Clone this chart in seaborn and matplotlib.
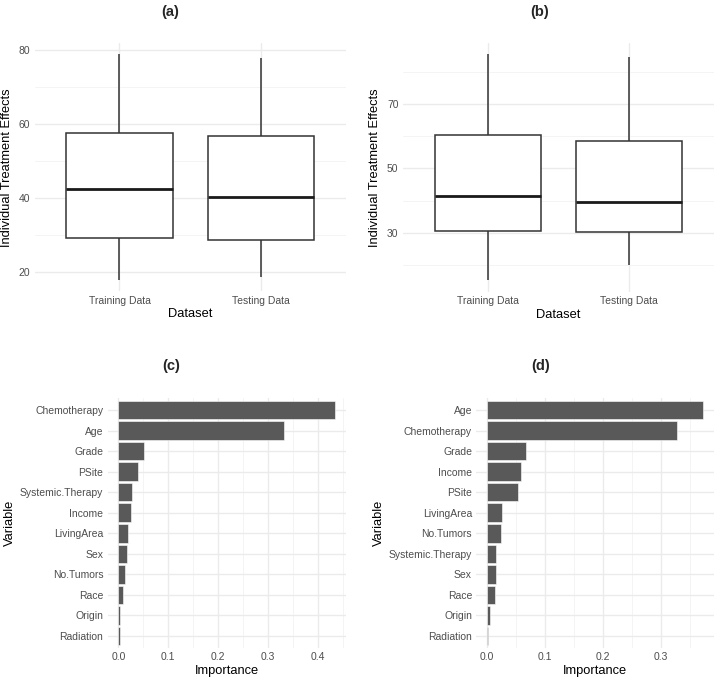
import matplotlib
matplotlib.use("Agg")
import numpy as np
import pandas as pd
import matplotlib.pyplot as plt
import seaborn as sns
from matplotlib.ticker import FixedLocator, MultipleLocator

# Box panels: min, Q1, median, Q3, max
datasets = ["Training Data", "Testing Data"]
ite_a_train = [17.9, 29.2, 42.4, 57.6, 78.8]
ite_a_test = [18.8, 28.6, 40.2, 56.8, 77.7]
ite_b_train = [15.3, 30.7, 41.5, 60.5, 85.4]
ite_b_test = [20.1, 30.3, 39.6, 58.4, 84.5]

# Variable importance panels
vars_c = ["Chemotherapy", "Age", "Grade", "PSite", "Systemic.Therapy", "Income",
          "LivingArea", "Sex", "No.Tumors", "Race", "Origin", "Radiation"]
imp_c = [0.435, 0.332, 0.052, 0.040, 0.027, 0.026, 0.020, 0.017, 0.014, 0.009, 0.004, 0.0035]

vars_d = ["Age", "Chemotherapy", "Grade", "Income", "PSite", "LivingArea",
          "No.Tumors", "Systemic.Therapy", "Sex", "Race", "Origin", "Radiation"]
imp_d = [0.373, 0.327, 0.068, 0.058, 0.053, 0.026, 0.024, 0.015, 0.015, 0.014, 0.005, 0.002]

W, H = 716, 681
TICK_COL = "#4D4D4D"
GRID_MAJ = "#EBEBEB"
GRID_MIN = "#F3F3F3"

sns.set_theme(style="white")
plt.rcParams["font.family"] = ["Liberation Sans", "DejaVu Sans"]


def px_axes(fig, left, top, right, bottom):
    return fig.add_axes([left / W, 1 - bottom / H, (right - left) / W, (bottom - top) / H])


def style_axes(ax):
    for s in ax.spines.values():
        s.set_visible(False)
    ax.set_axisbelow(True)
    ax.grid(which="major", color=GRID_MAJ, linewidth=1.0)
    ax.grid(which="minor", color=GRID_MIN, linewidth=0.6)
    ax.tick_params(which="both", length=0, labelsize=7.5, labelcolor=TICK_COL, pad=3)


def box_panel(ax, train, test, major, minor):
    df = pd.DataFrame({"Dataset": np.repeat(datasets, 5), "ITE": train + test})
    sns.boxplot(data=df, x="Dataset", y="ITE", order=datasets, ax=ax, width=0.75,
                whis=(0, 100), showcaps=False, showfliers=False, color="white",
                linecolor="#333333", linewidth=1.1,
                medianprops={"linewidth": 2.0, "color": "#1a1a1a"})
    vals = train + test
    lo, hi = min(vals), max(vals)
    pad = 0.05 * (hi - lo)
    ax.set_ylim(lo - pad, hi + pad)
    ax.set_xlim(-0.6, 1.6)
    ax.yaxis.set_major_locator(FixedLocator(major))
    ax.yaxis.set_minor_locator(FixedLocator(minor))
    style_axes(ax)
    ax.grid(axis="x", which="minor", visible=False)
    ax.set_xlabel("Dataset", fontsize=9.3, color="black", labelpad=2)
    ax.set_ylabel("Individual Treatment Effects", fontsize=9.3, color="black", labelpad=4)


def bar_panel(ax, names, imp):
    df = pd.DataFrame({"Variable": names, "Importance": imp})
    sns.barplot(data=df, x="Importance", y="Variable", order=names, ax=ax, orient="h",
                color="#595959", saturation=1, width=0.9, edgecolor="white", linewidth=0.4)
    top = max(imp)
    ax.set_xlim(-0.05 * top, 1.05 * top)
    ax.set_ylim(len(names) - 0.4, -0.6)
    ax.xaxis.set_major_locator(MultipleLocator(0.1))
    ax.xaxis.set_minor_locator(MultipleLocator(0.05))
    ax.xaxis.set_major_formatter("{x:.1f}")
    style_axes(ax)
    ax.grid(axis="y", which="minor", visible=False)
    ax.set_xlabel("Importance", fontsize=9.3, color="black", labelpad=2)
    ax.set_ylabel("Variable", fontsize=9.3, color="black", labelpad=3)


fig = plt.figure(figsize=(W / 100, H / 100), dpi=100)

ax_a = px_axes(fig, 34.6, 43.1, 345.9, 291.4)
box_panel(ax_a, ite_a_train, ite_a_test, [20, 40, 60, 80], [30, 50, 70])

ax_b = px_axes(fig, 402.7, 43.0, 714.3, 291.7)
box_panel(ax_b, ite_b_train, ite_b_test, [30, 50, 70], [20, 40, 60, 80])

ax_c = px_axes(fig, 107.5, 397.7, 345.9, 648.3)
bar_panel(ax_c, vars_c, imp_c)

ax_d = px_axes(fig, 476.2, 397.7, 714.2, 648.3)
bar_panel(ax_d, vars_d, imp_d)

for label, x, y in [("(a)", 170, 12), ("(b)", 540, 12), ("(c)", 171, 366), ("(d)", 541, 366)]:
    fig.text(x / W, 1 - y / H, label, ha="center", va="center", fontsize=10.5, fontweight="bold")

fig.savefig("out.png", dpi=100)
